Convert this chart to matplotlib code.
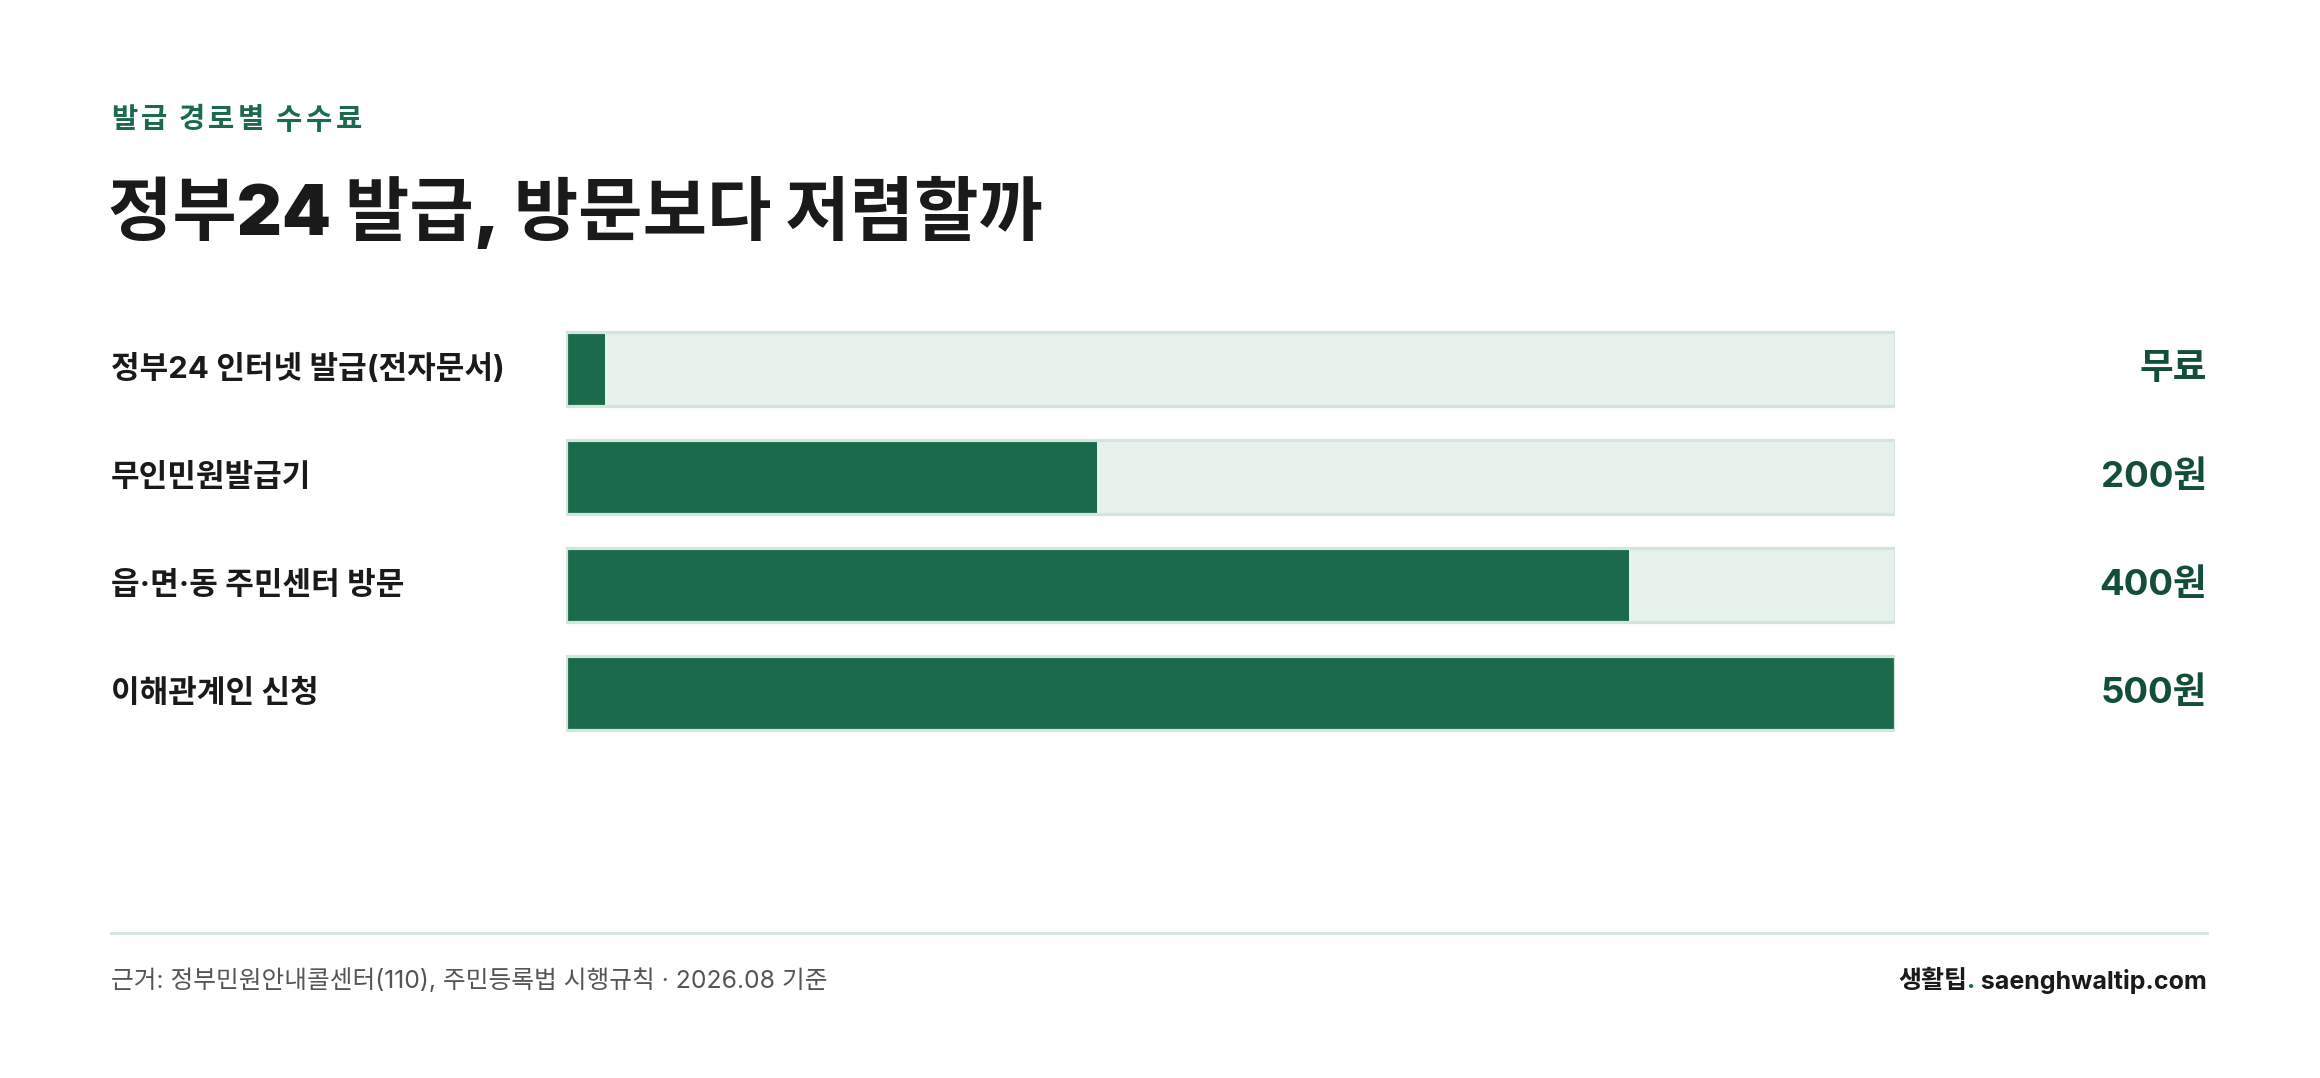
import matplotlib
matplotlib.use("Agg")
import matplotlib.pyplot as plt

# 라틴 문자는 Inter, 한글은 Noto Sans CJK KR 로 대체
plt.rcParams['font.family'] = ['Inter', 'Noto Sans CJK KR', 'DejaVu Sans']

# 데이터
categories = ["정부24 인터넷 발급(전자문서)", "무인민원발급기", "읍·면·동 주민센터 방문", "이해관계인 신청"]
fees = [0, 200, 400, 500]
fee_labels = ["무료", "200원", "400원", "500원"]
max_fee = 500

subtitle = "발급 경로별 수수료"
title = "정부24 발급, 방문보다 저렴할까"
source = "근거: 정부민원안내콜센터(110), 주민등록법 시행규칙 · 2026.08 기준"

# 색상
GREEN = "#1a6a4b"
DARK_GREEN = "#134f36"
TRACK = "#e8f2ed"
BORDER = "#d3e5dc"
INK = "#1a1a1a"
GRAY = "#555555"

W, H = 2320, 1078
DPI = 200
fig = plt.figure(figsize=(W / DPI, H / DPI), dpi=DPI)
fig.patch.set_facecolor("white")
renderer = fig.canvas.get_renderer()


def fx(px):
    return px / W


def fy(py):
    return 1 - py / H


def spaced_text(x_px, y_px, s, track_px, **kw):
    # 자간을 넓힌 텍스트: 글자를 하나씩 배치
    x = x_px
    for ch in s:
        t = fig.text(fx(x), fy(y_px), ch, ha="left", va="center", **kw)
        bb = t.get_window_extent(renderer)
        if ch == " ":
            x += 8
        else:
            x += bb.width + track_px


# 머리글
spaced_text(111, 121, subtitle, 3.4, fontsize=10.3, fontweight="bold", color=GREEN)
fig.text(fx(108), fy(212), title, fontsize=25.2, fontweight="black", color=INK,
         ha="left", va="center")

# 막대 영역
row_h = 108
top = 315
ax = fig.add_axes([fx(565.5), fy(top + row_h * len(categories)), fx(1894.5) - fx(565.5),
                   row_h * len(categories) / H])
ax.set_xlim(0, max_fee)
ax.set_ylim(len(categories) - 0.5, -0.5)
ax.axis("off")

ys = list(range(len(categories)))
min_frac = 0.03  # 무료 항목도 보이도록 최소 폭
shown = [max(v, max_fee * min_frac) for v in fees]

ax.barh(ys, [max_fee] * len(ys), height=0.676, color=TRACK, zorder=1)
ax.barh(ys, shown, height=0.676, color=GREEN, zorder=2)
ax.barh(ys, [max_fee] * len(ys), height=0.676, facecolor="none", edgecolor=BORDER,
        linewidth=1.15, zorder=3)

for i, (cat, lab) in enumerate(zip(categories, fee_labels)):
    yc = top + row_h * (i + 0.5)
    fig.text(fx(111), fy(yc), cat, fontsize=11.2, fontweight="bold", color=INK,
             ha="left", va="center")
    fig.text(fx(2207), fy(yc), lab, fontsize=13.2, fontweight="bold", color=DARK_GREEN,
             ha="right", va="center")

# 바닥 구분선
fig.add_artist(plt.Line2D([fx(111), fx(2207)], [fy(933), fy(933)], color=BORDER,
                          linewidth=1.0))

fig.text(fx(111), fy(981), source, fontsize=8.9, color=GRAY, ha="left", va="center")

# 오른쪽 브랜드 표기 (점만 초록색)
t1 = fig.text(fx(2207), fy(981), " saenghwaltip.com", fontsize=9.0, fontweight="bold",
              color=INK, ha="right", va="center")
x_left = t1.get_window_extent(renderer).x0
t2 = fig.text(x_left / W, fy(981), ".", fontsize=9.0, fontweight="bold",
              color=GREEN, ha="right", va="center")
x_left = t2.get_window_extent(renderer).x0
fig.text(x_left / W, fy(981), "생활팁", fontsize=9.0, fontweight="bold",
         color=INK, ha="right", va="center")

fig.savefig("out.png", dpi=DPI, facecolor="white")
